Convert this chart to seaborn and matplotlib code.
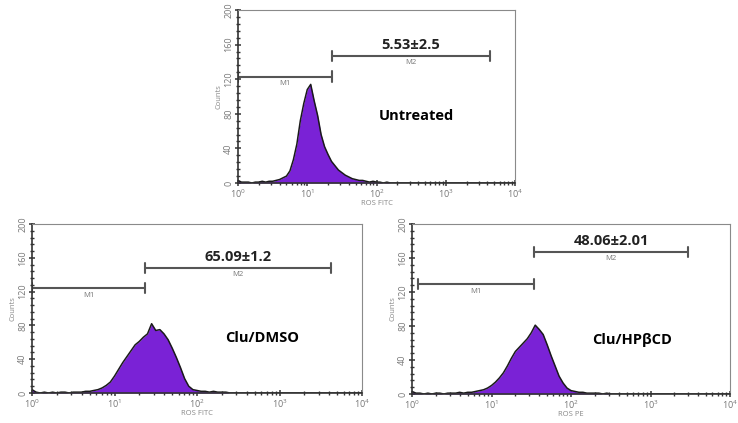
import numpy as np
import pandas as pd
import matplotlib
matplotlib.use('Agg')
import matplotlib.pyplot as plt
import seaborn as sns
from matplotlib.ticker import FixedLocator, LogLocator, NullFormatter

# --- dados (log10 da fluorescência, contagens) ---
log_canal = [round(0.05 * i, 2) for i in range(51)]

contagens_untreated = [3, 1, 1, 1, 0, 1, 1, 2, 1, 2, 2, 3, 4, 6, 8, 14, 27, 45, 72, 92,
                       108, 114, 95, 78, 56, 42, 33, 25, 20, 15, 12, 9, 7, 5, 4, 3, 3, 2, 1, 2,
                       1, 1, 0, 1, 0, 0, 0, 0, 0, 0, 0]
contagens_dmso = [4, 1, 0, 1, 0, 1, 0, 1, 1, 0, 1, 1, 1, 2, 2, 3, 4, 6, 9, 13,
                  20, 28, 36, 43, 50, 57, 61, 66, 70, 82, 74, 75, 70, 63, 53, 42, 30, 17, 8, 4,
                  3, 2, 2, 1, 2, 1, 1, 1, 0, 0, 0]
contagens_hpbcd = [3, 1, 1, 0, 1, 0, 1, 1, 0, 1, 1, 1, 2, 1, 2, 2, 3, 4, 5, 7,
                   10, 14, 19, 25, 33, 42, 50, 55, 60, 65, 72, 81, 76, 70, 58, 45, 33, 21, 13, 7,
                   4, 3, 2, 2, 1, 1, 1, 1, 0, 1, 0]

titulos = ['Untreated', 'Clu/DMSO', 'Clu/HPβCD']
valores_m2 = ['5.53±2.5', '65.09±1.2', '48.06±2.01']
eixo_x = ['ROS FITC', 'ROS FITC', 'ROS PE']
# marcadores M1/M2: (inicio M1, fim M1 = inicio M2, fim M2) em log10, altura M1, altura M2
m1_inicio = [0.0, 0.0, 0.08]
m_limite = [1.36, 1.37, 1.54]
m2_fim = [3.64, 3.62, 3.47]
m1_altura = [123, 124, 129]
m2_altura = [147, 148, 167]
texto_pos = [(2.57, 78), (2.79, 65), (2.77, 63)]

ROXO = '#7a22d6'
CINZA = '#555555'

sns.set_style('ticks')
plt.rcParams['font.family'] = ['Open Sans', 'DejaVu Sans']

fig = plt.figure(figsize=(7.38, 4.23), dpi=100)
W, H = 738, 423
caixas = [(238, 10, 515, 183), (32, 224, 362, 393), (412, 224, 730, 394)]
series = [contagens_untreated, contagens_dmso, contagens_hpbcd]

for i, (x0, y0, x1, y1) in enumerate(caixas):
    ax = fig.add_axes([x0 / W, 1 - y1 / H, (x1 - x0) / W, (y1 - y0) / H])
    df = pd.DataFrame({'x': [10 ** v for v in log_canal] + [1e4],
                       'y': series[i] + [0]})
    ax.fill_between(df['x'], df['y'], 0, color=ROXO, linewidth=0)
    sns.lineplot(data=df, x='x', y='y', ax=ax, color='#1a1a1a', linewidth=1.1)
    ax.set_xscale('log')
    ax.set_xlim(1, 1e4)
    ax.set_ylim(0, 200)

    # eixos
    for lado in ['top', 'right']:
        ax.spines[lado].set_color('#8a8a8a')
        ax.spines[lado].set_linewidth(0.8)
    for lado in ['left', 'bottom']:
        ax.spines[lado].set_color('#333333')
        ax.spines[lado].set_linewidth(1.2)

    ax.xaxis.set_major_locator(LogLocator(base=10, numticks=10))
    ax.xaxis.set_minor_locator(LogLocator(base=10, subs=np.arange(2, 10), numticks=10))
    ax.xaxis.set_minor_formatter(NullFormatter())
    ax.yaxis.set_major_locator(FixedLocator([0, 40, 80, 120, 160, 200]))
    ax.yaxis.set_minor_locator(FixedLocator(list(range(0, 201, 8))))
    ax.tick_params(axis='both', which='both', bottom=True, left=True, top=False,
                   right=False, direction='inout')
    ax.tick_params(axis='both', which='major', length=5, width=1.1, color='#333333',
                   labelsize=6.5, labelcolor='#777777', pad=1)
    ax.tick_params(axis='both', which='minor', length=3.5, width=1.0, color='#333333')
    ax.tick_params(axis='y', labelrotation=90)
    for t in ax.get_yticklabels():
        t.set_va('center')
    ax.set_xlabel(eixo_x[i], fontsize=5.5, color='#888888', labelpad=0)
    ax.set_ylabel('Counts', fontsize=5.5, color='#888888', labelpad=1)

    # marcadores M1 e M2
    a, b, c = 10 ** m1_inicio[i], 10 ** m_limite[i], 10 ** m2_fim[i]
    ax.plot([a, b], [m1_altura[i]] * 2, color=CINZA, lw=1.5)
    ax.plot([b, c], [m2_altura[i]] * 2, color=CINZA, lw=1.5)
    for xv, yv in [(a, m1_altura[i]), (b, m1_altura[i]), (b, m2_altura[i]), (c, m2_altura[i])]:
        ax.plot([xv, xv], [yv - 6, yv + 6], color=CINZA, lw=1.5)
    ax.text(10 ** ((m1_inicio[i] + m_limite[i]) / 2), m1_altura[i] - 4, 'M1',
            ha='center', va='top', fontsize=5.5, color='#777777')
    ax.text(10 ** ((m_limite[i] + m2_fim[i]) / 2), m2_altura[i] - 4, 'M2',
            ha='center', va='top', fontsize=5.5, color='#777777')
    ax.text(10 ** ((m_limite[i] + m2_fim[i]) / 2), m2_altura[i] + 5, valores_m2[i],
            ha='center', va='bottom', fontsize=10.5, fontweight='bold', color='#222222')
    tx, ty = texto_pos[i]
    ax.text(10 ** tx, ty, titulos[i], ha='center', va='center', fontsize=10.5,
            fontweight='bold', color='black')

fig.savefig('out.png', dpi=100)
